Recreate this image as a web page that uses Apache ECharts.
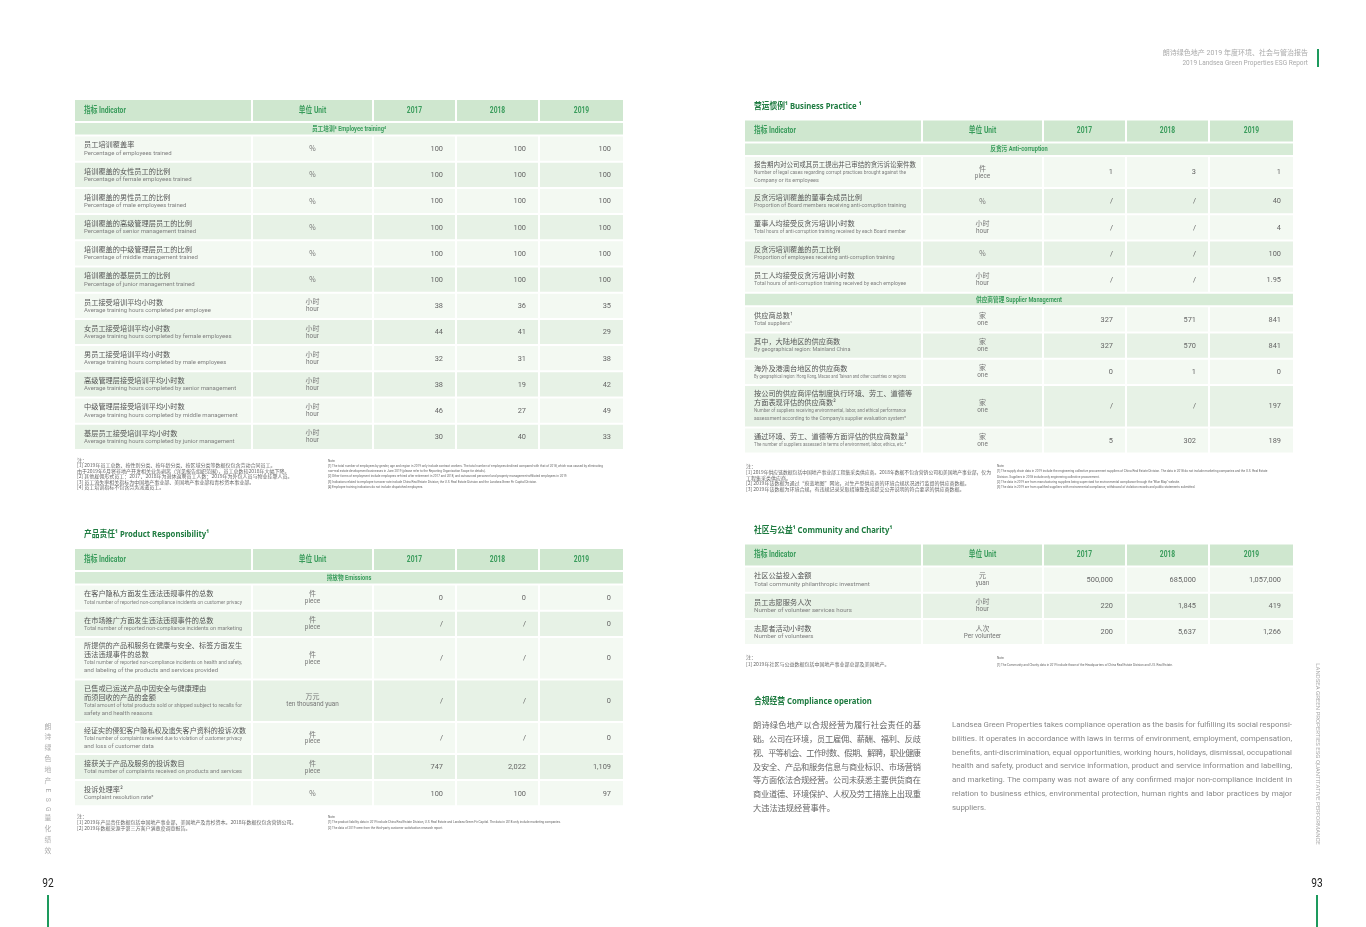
<!DOCTYPE html>
<html>
<head>
<meta charset="utf-8">
<title>朗诗绿色地产 ESG 量化绩效</title>
<script src="https://cdn.jsdelivr.net/npm/echarts@6/dist/echarts.min.js"></script>
<style>
html, body { margin: 0; padding: 0; background: #fff; }
#main { width: 1366px; height: 927px; }
</style>
</head>
<body>
<div id="main"></div>
<script>
// 年份
var years = ['2017', '2018', '2019'];

// 员工培训
var trainSection = '员工培训⁴ Employee training⁴';
var trainCn = ['员工培训覆盖率', '培训覆盖的女性员工的比例', '培训覆盖的男性员工的比例', '培训覆盖的高级管理层员工的比例',
    '培训覆盖的中级管理层员工的比例', '培训覆盖的基层员工的比例', '员工接受培训平均小时数', '女员工接受培训平均小时数',
    '男员工接受培训平均小时数', '高级管理层接受培训平均小时数', '中级管理层接受培训平均小时数', '基层员工接受培训平均小时数'];
var trainEn = ['Percentage of employees trained', 'Percentage of female employees trained', 'Percentage of male employees trained',
    'Percentage of senior management trained', 'Percentage of middle management trained', 'Percentage of junior management trained',
    'Average training hours completed per employee', 'Average training hours completed by female employees',
    'Average training hours completed by male employees', 'Average training hours completed by senior management',
    'Average training hours completed by middle management', 'Average training hours completed by junior management'];
var trainUnit = ['%', '%', '%', '%', '%', '%', '小时\nhour', '小时\nhour', '小时\nhour', '小时\nhour', '小时\nhour', '小时\nhour'];
var train2017 = [100, 100, 100, 100, 100, 100, 38, 44, 32, 38, 46, 30];
var train2018 = [100, 100, 100, 100, 100, 100, 36, 41, 31, 19, 27, 40];
var train2019 = [100, 100, 100, 100, 100, 100, 35, 29, 38, 42, 49, 33];

// 产品责任 (null = "/")
var prodSection = '排放物 Emissions';
var prodCn = ['在客户隐私方面发生违法违规事件的总数', '在市场推广方面发生违法违规事件的总数',
    '所提供的产品和服务在健康与安全、标签方面发生\n违法违规事件的总数', '已售或已运送产品中因安全与健康理由\n而须回收的产品的金额',
    '经证实的侵犯客户隐私权及遗失客户资料的投诉次数', '接获关于产品及服务的投诉数目', '投诉处理率²'];
var prodEn = ['Total number of reported non-compliance incidents on customer privacy',
    'Total number of reported non-compliance incidents on marketing',
    'Total number of reported non-compliance incidents on health and safety,\nand labeling of the products and services provided',
    'Total amount of total products sold or shipped subject to recalls for\nsafety and health reasons',
    'Total number of complaints received due to violation of customer privacy\nand loss of customer data',
    'Total number of complaints received on products and services', 'Complaint resolution rate²'];
var prodUnit = ['件\npiece', '件\npiece', '件\npiece', '万元\nten thousand yuan', '件\npiece', '件\npiece', '%'];
var prod2017 = [0, null, null, null, null, 747, 100];
var prod2018 = [0, null, null, null, null, 2022, 100];
var prod2019 = [0, 0, 0, 0, 0, 1109, 97];

// 营运惯例
var bizSections = ['反贪污 Anti-corruption', '供应商管理 Supplier Management'];
var bizGroup = [0, 0, 0, 0, 0, 1, 1, 1, 1, 1];
var bizCn = ['报告期内对公司或其员工提出并已审结的贪污诉讼案件数', '反贪污培训覆盖的董事会成员比例', '董事人均接受反贪污培训小时数',
    '反贪污培训覆盖的员工比例', '员工人均接受反贪污培训小时数', '供应商总数¹', '其中，大陆地区的供应商数', '海外及港澳台地区的供应商数',
    '按公司的供应商评估制度执行环境、劳工、道德等\n方面表现评估的供应商数²', '通过环境、劳工、道德等方面评估的供应商数量³'];
var bizEn = ['Number of legal cases regarding corrupt practices brought against the\nCompany or its employees',
    'Proportion of Board members receiving anti-corruption training',
    'Total hours of anti-corruption training received by each Board member',
    'Proportion of employees receiving anti-corruption training',
    'Total hours of anti-corruption training received by each employee',
    'Total suppliers¹', 'By geographical region: Mainland China',
    'By geographical region: Hong Kong, Macao and Taiwan and other countries or regions',
    'Number of suppliers receiving environmental, labor, and ethical performance\nassessment according to the Company\'s supplier evaluation system²',
    'The number of suppliers assessed in terms of environment, labor, ethics, etc.³'];
var bizUnit = ['件\npiece', '%', '小时\nhour', '%', '小时\nhour', '家\none', '家\none', '家\none', '家\none', '家\none'];
var biz2017 = [1, null, null, null, null, 327, 327, 0, null, 5];
var biz2018 = [3, null, null, null, null, 571, 570, 1, null, 302];
var biz2019 = [1, 40, 4, 100, 1.95, 841, 841, 0, 197, 189];

// 社区与公益
var commCn = ['社区公益投入金额', '员工志愿服务人次', '志愿者活动小时数'];
var commEn = ['Total community philanthropic investment', 'Number of volunteer services hours', 'Number of volunteers'];
var commUnit = ['元\nyuan', '小时\nhour', '人次\nPer volunteer'];
var comm2017 = [500000, 220, 200];
var comm2018 = [685000, 1845, 5637];
var comm2019 = [1057000, 419, 1266];

// 注释
var trainNoteCn = ['注：',
    '[1] 2019年员工总数、按性别分类、按年龄分类、按区域分类等数据仅包含劳动合同员工。',
    '由于2019年6月将非地产开发相关业务剥离（详见报告组织范围），员工总数较2018年大幅下降。',
    '[2] 其他雇佣形式员工：2017、2018年为退休返聘员工人数；2019年为外包人员与物业挂靠人员。',
    '[3] 员工流失率相关指标为中国地产事业部、美国地产事业部和青杉资本事业部。',
    '[4] 员工培训指标不包含劳务派遣员工。'];
var trainNoteEn = ['Note:',
    '[1] The total number of employees by gender, age and region in 2019 only include contract workers. The total number of employees declined compared with that of 2018, which was caused by eliminating',
    'non-real estate development businesses in June 2019 (please refer to the Reporting Organization Scope for details).',
    '[2] Other forms of employment include employees re-hired after retirement in 2017 and 2018, and outsourced personnel and property management-affiliated employees in 2019.',
    '[3] Indicators related to employee turnover rate include China Real Estate Division, the U.S. Real Estate Division and the Landsea Green Fir Capital Division.',
    '[4] Employee training indicators do not include dispatched employees.'];
var prodNoteCn = ['注：',
    '[1] 2019年产品责任数据包括中国地产事业部、美国地产及青杉资本。2018年数据仅包含营销公司。',
    '[2] 2019年数据来源于第三方客户满意度调查报告。'];
var prodNoteEn = ['Note:',
    '[1] The product liability data in 2019 include China Real Estate Division, U.S. Real Estate and Landsea Green Fir Capital. The data in 2018 only include marketing companies.',
    '[2] The data of 2019 were from the third-party customer satisfaction research report.'];
var bizNoteCn = ['注：',
    '[1] 2019年供应链数据包括中国地产事业部工程集采类供应商。2018年数据不包含营销公司和美国地产事业部，仅为',
    '工程集采类供应商。',
    '[2] 2019年该数据为通过“蔚蓝地图”网站，对生产型供应商的环境合规状况进行监督的供应商数据。',
    '[3] 2019年该数据为环境合规，有违规记录采取措施整改或提交公开说明的符合要求的供应商数据。'];
var bizNoteEn = ['Note:',
    '[1] The supply chain data in 2019 include the engineering collective procurement suppliers of China Real Estate Division. The data in 2018 do not include marketing companies and the U.S. Real Estate',
    'Division. Suppliers in 2018 include only engineering collective procurement.',
    '[2] The data in 2019 are from manufacturing suppliers being supervised for environmental compliance through the "Blue Map" website.',
    '[3] The data in 2019 are from qualified suppliers with environmental compliance, withdrawal of violation records and public statements submitted.'];
var commNoteCn = ['注：', '[1] 2019年社区与公益数据包括中国地产事业部总部及美国地产。'];
var commNoteEn = ['Note:', '[1] The Community and Charity data in 2019 include those of the Headquarters of China Real Estate Division and U.S. Real Estate.'];

// 合规经营
var complianceCn = ['朗诗绿色地产以合规经营为履行社会责任的基', '础。公司在环境，员工雇佣、薪酬、福利、反歧',
    '视、平等机会、工作时数、假期、解聘，职业健康', '及安全、产品和服务信息与商业标识、市场营销',
    '等方面依法合规经营。公司未获悉主要供货商在', '商业道德、环境保护、人权及劳工措施上出现重', '大违法违规经营事件。'];
var complianceEn = ['Landsea Green Properties takes compliance operation as the basis for fulfilling its social responsi-',
    'bilities. It operates in accordance with laws in terms of environment, employment, compensation,',
    'benefits, anti-discrimination, equal opportunities, working hours, holidays, dismissal, occupational',
    'health and safety, product and service information, product and service information and labelling,',
    'and marketing.  The company was not aware of any confirmed major non-compliance incident in',
    'relation to business ethics, environmental protection, human rights and labor practices by major',
    'suppliers.'];

var CN = '"Noto Sans CJK SC"';
var EN = 'Roboto, "Noto Sans CJK SC"';
var TITLE_FONT = '"Noto Sans", "Noto Sans CJK SC"';
var C_HEAD = '#cfe7cf', C_SEC = '#d6ebd6', C_LIGHT = '#f3f9f2', C_DARK = '#e7f2e6';
var C_GREEN = '#3a9c5c', C_TITLE = '#1e7b40';
var COLS = [0, 178, 299, 382, 465, 548];

var measureCtx = document.createElement('canvas').getContext('2d');
function textWidth(str, font) {
    measureCtx.font = font;
    return measureCtx.measureText(str).width;
}

function fmt(v) {
    return v == null ? '/' : v.toLocaleString('en-US');
}

// 文本元素
function T(str, x, y, o) {
    o = o || {};
    var size = o.size || 7, fam = o.family || CN, weight = o.weight || 'normal';
    var align = o.align || 'left';
    var s = o.scale || 1;
    if (o.maxW) {
        var w = textWidth(str, weight + ' ' + size + 'px ' + fam) * s;
        if (w > o.maxW) s = s * o.maxW / w;
    }
    return {
        type: 'text', x: x, y: y, scaleX: s, rotation: o.rot || 0, silent: true,
        style: {
            text: str, x: 0, y: 0, fill: o.color || '#666',
            fontSize: size, fontFamily: fam, fontWeight: weight,
            align: align, textAlign: align, verticalAlign: 'middle', textVerticalAlign: 'middle'
        }
    };
}

function R(x, y, w, h, fill) {
    return {type: 'rect', silent: true, shape: {x: x, y: y, width: w, height: h}, style: {fill: fill}};
}

function buildRows(t) {
    var rows = [{kind: 'head', y: 0, h: 21}];
    var y = 23, last = -1, alt = 0;
    for (var i = 0; i < t.cn.length; i++) {
        var g = t.group ? t.group[i] : 0;
        if (t.sections && g !== last) {
            rows.push({kind: 'sec', y: y, h: 11.5, text: t.sections[g]});
            y += 13.5;
            alt = 0;
        }
        last = g;
        var n = t.cn[i].split('\n').length + t.en[i].split('\n').length;
        var h = n >= 4 ? 42.5 : (n === 3 ? 32 : 26.2);
        rows.push({kind: 'data', y: y, h: h - 2, i: i, alt: alt % 2});
        alt++;
        y += h;
    }
    t.rows = rows;
    t.height = y;
}

function tableRenderer(t) {
    return function (params, api) {
        var r = t.rows[params.dataIndex];
        var top = api.coord([0, r.y])[1], bot = api.coord([0, r.y + r.h])[1];
        var mid = (top + bot) / 2;
        var xs = COLS.map(function (c) { return api.coord([c, 0])[0]; });
        var right = function (k) { return k === 4 ? xs[5] : xs[k + 1] - 2; };
        var kids = [];
        if (r.kind === 'sec') {
            kids.push(R(xs[0], top, xs[5] - xs[0], bot - top, C_SEC));
            kids.push(T(r.text, (xs[0] + xs[5]) / 2, mid + 0.3, {size: 6.6, color: C_GREEN, family: EN, align: 'center', scale: 0.86, weight: 'bold'}));
            return {type: 'group', children: kids};
        }
        var fill = r.kind === 'head' ? C_HEAD : (r.alt ? C_DARK : C_LIGHT);
        for (var k = 0; k < 5; k++) kids.push(R(xs[k], top, right(k) - xs[k], bot - top, fill));
        if (r.kind === 'head') {
            var hs = {size: 8.6, color: C_GREEN, family: EN, scale: 0.78, weight: 'bold'};
            kids.push(T('指标 Indicator', xs[0] + 9, mid, hs));
            var hc = {size: 8.6, color: C_GREEN, family: EN, scale: 0.78, weight: 'bold', align: 'center'};
            kids.push(T('单位 Unit', (xs[1] + right(1)) / 2, mid, hc));
            for (var y = 0; y < 3; y++) kids.push(T(years[y], (xs[y + 2] + right(y + 2)) / 2, mid, hc));
            return {type: 'group', children: kids};
        }
        var i = r.i;
        var cn = t.cn[i].split('\n'), en = t.en[i].split('\n');
        var LC = 8.8, LE = 8;
        var yy = mid - (cn.length * LC + en.length * LE) / 2;
        cn.forEach(function (s) {
            kids.push(T(s, xs[0] + 9, yy + LC / 2, {size: 7.2, color: '#555', family: CN, maxW: 162}));
            yy += LC;
        });
        en.forEach(function (s) {
            kids.push(T(s, xs[0] + 9, yy + LE / 2, {size: t.enSize, color: '#808080', family: EN, maxW: t.enMax}));
            yy += LE;
        });
        var u = t.unit[i].split('\n');
        var ux = (xs[1] + right(1)) / 2;
        var uy = mid - (u.length - 1) * 4;
        u.forEach(function (s, j) {
            kids.push(T(s, ux, uy + j * 8, {size: j === 0 ? 7 : 6.4, color: '#777', align: 'center', family: j === 0 ? CN : EN}));
        });
        for (var c = 0; c < 3; c++) {
            kids.push(T(fmt(t.vals[c][i]), right(c + 2) - 12, mid + 0.5, {size: 7.4, color: '#666', align: 'right', family: EN}));
        }
        return {type: 'group', children: kids};
    };
}

var tables = [
    {left: 75, top: 100, sections: [trainSection], cn: trainCn, en: trainEn, unit: trainUnit,
        vals: [train2017, train2018, train2019], enSize: 6, enMax: 162},
    {left: 75, top: 549, sections: [prodSection], cn: prodCn, en: prodEn, unit: prodUnit,
        vals: [prod2017, prod2018, prod2019], enSize: 6, enMax: 158},
    {left: 745, top: 120.5, sections: bizSections, group: bizGroup, cn: bizCn, en: bizEn, unit: bizUnit,
        vals: [biz2017, biz2018, biz2019], enSize: 5.5, enMax: 152},
    {left: 745, top: 544.5, sections: null, cn: commCn, en: commEn, unit: commUnit,
        vals: [comm2017, comm2018, comm2019], enSize: 6.2, enMax: 162}
];

var grids = [], xAxes = [], yAxes = [], series = [];
tables.forEach(function (t, k) {
    buildRows(t);
    grids.push({left: t.left, top: t.top, width: 548, height: t.height, containLabel: false, outerBoundsMode: 'none', show: false});
    xAxes.push({type: 'value', gridIndex: k, min: 0, max: 548, show: false});
    yAxes.push({type: 'value', gridIndex: k, min: 0, max: t.height, inverse: true, show: false});
    series.push({
        type: 'custom', xAxisIndex: k, yAxisIndex: k, clip: false, silent: true, animation: false,
        data: t.rows.map(function (r) { return [0, r.y]; }),
        renderItem: tableRenderer(t)
    });
});

// 其余文字
var els = [];
function notes(lines, x, y0, lh, o) {
    lines.forEach(function (s, k) { els.push(T(s, x, y0 + k * lh, o)); });
}
var noteCnStyle = {size: 5, color: '#666', family: CN, maxW: 245};
var noteEnStyle = {size: 4.4, color: '#666', family: EN, scale: 0.7, maxW: 296};
notes(trainNoteCn, 77, 460, 5.5, noteCnStyle);
notes(trainNoteEn, 328, 460.5, 5.3, noteEnStyle);
notes(prodNoteCn, 77, 816.5, 6, noteCnStyle);
notes(prodNoteEn, 328, 816.5, 5.8, noteEnStyle);
notes(bizNoteCn, 746, 466.5, 5.6, noteCnStyle);
notes(bizNoteEn, 997, 466, 5.3, noteEnStyle);
notes(commNoteCn, 746, 657.5, 7, noteCnStyle);
notes(commNoteEn, 997, 657.5, 7, noteEnStyle);

var titleStyle = {size: 8.6, weight: 'bold', color: C_TITLE, family: TITLE_FONT, scale: 0.9};
els.push(T('产品责任¹ Product Responsibility¹', 84, 534.5, titleStyle));
els.push(T('营运惯例¹ Business Practice ¹', 754, 106.5, titleStyle));
els.push(T('社区与公益¹ Community and Charity¹', 754, 530.5, titleStyle));
els.push(T('合规经营 Compliance operation', 754, 701.5, titleStyle));

// 页眉
els.push(T('朗诗绿色地产 2019 年度环境、社会与管治报告', 1308, 53, {size: 7, color: '#aaa', align: 'right', family: EN}));
els.push(T('2019 Landsea Green Properties ESG Report', 1308, 63, {size: 6.5, color: '#aaa', align: 'right', family: EN}));
els.push(R(1317, 49, 2, 18, '#1d9a5d'));

// 合规经营 正文
var PARA_TOP = 725, PARA_LH = 13.8;
complianceCn.forEach(function (line, k) {
    var y = PARA_TOP + k * PARA_LH, size = 8.2, W = 168;
    var chars = line.split('');
    var step = (k === complianceCn.length - 1) ? size : (W - size) / (chars.length - 1);
    chars.forEach(function (ch, j) {
        els.push(T(ch, 753 + j * step, y, {size: size, color: '#666', family: CN}));
    });
});
var paraEn = {size: 7.9, color: '#888', family: 'Roboto', weight: 'normal'};
complianceEn.forEach(function (line, k) {
    var y = PARA_TOP + k * PARA_LH;
    var words = line.split(/\s+/);
    var font = paraEn.weight + ' ' + paraEn.size + 'px ' + paraEn.family;
    var ws = words.map(function (w) { return textWidth(w, font); });
    var sum = ws.reduce(function (a, b) { return a + b; }, 0);
    var last = k === complianceEn.length - 1;
    var minGap = 1.6, sq = 1;
    if (!last && sum + minGap * (words.length - 1) > 340) sq = (340 - minGap * (words.length - 1)) / sum;
    var gap = (last || words.length < 2) ? textWidth(' ', font) : (340 - sum * sq) / (words.length - 1);
    var cx = 952;
    words.forEach(function (w, j) {
        var o = {size: paraEn.size, color: paraEn.color, family: paraEn.family, weight: paraEn.weight, scale: sq};
        els.push(T(w, cx, y, o));
        cx += ws[j] * sq + gap;
    });
});

// 左侧竖排
var sideCn = '朗诗绿色地产ESG量化绩效'.split('');
var sy = 727;
sideCn.forEach(function (ch, k) {
    var latin = /[A-Z]/.test(ch);
    els.push(T(ch, 48, sy, {size: 6.8, color: '#aaa', family: EN, align: 'center', rot: latin ? -Math.PI / 2 : 0}));
    var next = sideCn[k + 1];
    sy += (latin || (next && /[A-Z]/.test(next))) ? 9.4 : 10.8;
});
els.push(T('LANDSEA GREEN PROPERTIES ESG QUANTITATIVE PERFORMANCE', 1317, 754, {size: 6, color: '#aaa', family: 'Roboto', align: 'center', rot: -Math.PI / 2}));

// 页码
els.push(T('92', 48, 884, {size: 13, color: '#222', family: 'Roboto', align: 'center', scale: 0.78}));
els.push(T('93', 1317, 884, {size: 13, color: '#222', family: 'Roboto', align: 'center', scale: 0.78}));
els.push(R(47, 895, 2, 32, '#1d9a5d'));
els.push(R(1316, 895, 2, 32, '#1d9a5d'));

var chart = echarts.init(document.getElementById('main'), null, {renderer: 'canvas'});
chart.setOption({
    backgroundColor: '#fff',
    animation: false,
    grid: grids,
    xAxis: xAxes,
    yAxis: yAxes,
    series: series,
    graphic: {elements: els}
});
</script>
</body>
</html>
